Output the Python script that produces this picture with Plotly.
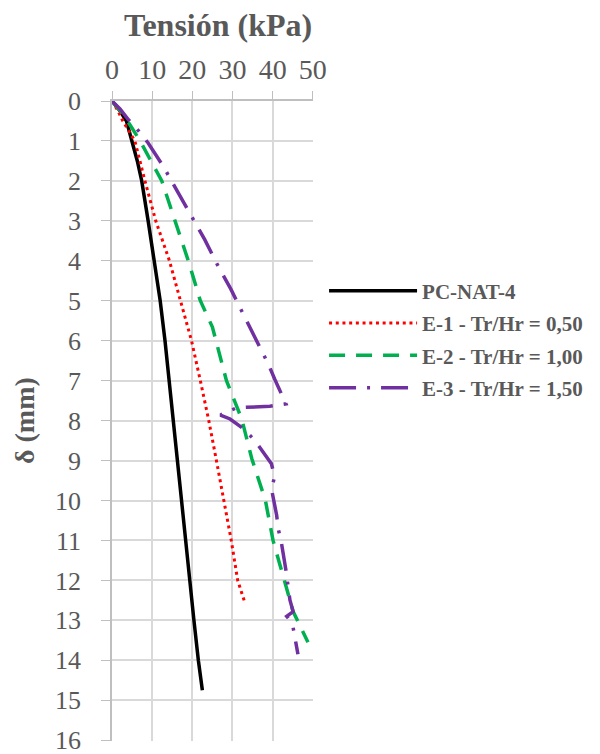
import plotly.graph_objects as go

# PC-NAT-4
pc_x = [0, 2.0, 3.6, 5.0, 6.3, 7.4, 8.3, 9.0, 10.5, 12.0, 13.2, 14.2, 15.3, 16.3, 17.3, 18.4, 19.4, 20.4, 21.5, 22.5]
pc_y = [0, 0.25, 0.5, 1.0, 1.5, 2.0, 2.5, 3.0, 4.0, 5.0, 6.0, 7.0, 8.0, 9.0, 10.0, 11.0, 12.0, 13.0, 14.0, 14.75]
# E-1 - Tr/Hr = 0,50
e1_x = [0, 1.5, 2.7, 4.3, 5.7, 8.2, 10.9, 14.3, 17.0, 19.8, 22.0, 24.1, 26.0, 27.9, 29.7, 31.3, 32.9]
e1_y = [0, 0.25, 0.5, 0.75, 1.0, 2.0, 3.0, 4.0, 5.0, 6.0, 7.0, 8.0, 9.0, 10.0, 11.0, 12.0, 12.5]
# E-2 - Tr/Hr = 1,00
e2_x = [0, 2.5, 4.5, 7.0, 12.4, 15.7, 19.0, 22.0, 25.0, 28.5, 32.3, 34.8, 38.2, 40.1, 41.8, 43.0, 45.1, 48.8]
e2_y = [0, 0.3, 0.6, 1.0, 2.0, 3.0, 4.0, 5.0, 5.66, 7.0, 7.96, 8.95, 10.0, 11.0, 11.65, 12.03, 12.78, 13.55]
# E-3 - Tr/Hr = 1,50
e3_x = [0, 2.0, 4.1, 6.8, 9.0, 12.8, 16.5, 19.6, 23.1, 26.2, 29.6, 32.7, 34.3, 36.0, 38.9, 40.5, 42.2, 43.3,
        39.3, 31.0, 27.0, 29.4, 32.7, 35.6, 39.7, 40.5, 39.7, 41.0, 41.4, 42.2, 43.3, 44.3, 45.1, 43.5, 44.9, 45.5, 46.3]
e3_y = [0, 0.2, 0.47, 0.77, 1.05, 1.64, 2.3, 2.84, 3.47, 4.09, 4.71, 5.34, 5.65, 6.0, 6.58, 6.96, 7.33, 7.58,
        7.64, 7.68, 7.86, 7.96, 8.2, 8.5, 9.08, 9.41, 9.7, 10.37, 10.71, 11.07, 11.74, 12.49, 12.78, 12.9, 13.07, 13.44, 13.85]

x_ticks = [0, 10, 20, 30, 40, 50]
y_ticks = list(range(0, 17))

grey = "#595959"
serif = "Liberation Serif, Times New Roman, DejaVu Serif, serif"
fig = go.Figure()
fig.add_trace(go.Scatter(x=pc_x, y=pc_y, mode="lines", name="PC-NAT-4", legendgroup="a",
                         line=dict(color="black", width=3.5)))
fig.add_trace(go.Scatter(x=e1_x, y=e1_y, mode="lines", name="E-1 - Tr/Hr = 0,50", legendgroup="b",
                         line=dict(color="#ff0000", width=3, dash="3px,3.7px")))
fig.add_trace(go.Scatter(x=e2_x, y=e2_y, mode="lines", name="E-2 - Tr/Hr = 1,00", legendgroup="c",
                         line=dict(color="#00b050", width=3.5, dash="16px,11px")))
fig.add_trace(go.Scatter(x=e3_x, y=e3_y, mode="lines", name="E-3 - Tr/Hr = 1,50", legendgroup="d",
                         line=dict(color="#7030a0", width=3.5, dash="27px,11px,3px,11px")))

fig.update_layout(
    width=600, height=754,
    margin=dict(l=112, r=287, t=101, b=13, autoexpand=False),
    paper_bgcolor="white", plot_bgcolor="white",
    font=dict(family=serif, color=grey),
    showlegend=True,
    legend=dict(x=1.055, y=0.735, xanchor="left", yanchor="top",
                font=dict(family=serif, size=21, color=grey, weight="bold"),
                bgcolor="rgba(0,0,0,0)", itemwidth=88, tracegroupgap=2),
    xaxis=dict(side="top", range=[0, 50.05], tickvals=x_ticks, ticks="outside", ticklen=8,
               tickcolor="#bfbfbf", showline=True, linecolor="#bfbfbf", linewidth=1.5,
               showgrid=True, gridcolor="#d9d9d9", gridwidth=1.5, zeroline=False,
               ticklabeloverflow="allow", automargin=False,
               tickfont=dict(family=serif, size=28, color=grey), ticklabelstandoff=1),
    yaxis=dict(range=[16.02, 0], tickvals=y_ticks, ticks="outside", ticklen=9,
               tickcolor="#bfbfbf", showline=True, linecolor="#bfbfbf", linewidth=1.5,
               showgrid=True, gridcolor="#d9d9d9", gridwidth=1.5, zeroline=False,
               ticklabeloverflow="allow", automargin=False,
               tickfont=dict(family=serif, size=26, color=grey), ticklabelstandoff=15),
    annotations=[
        dict(text="Tensión (kPa)", xref="paper", yref="paper", x=0.5, y=1, xshift=5, yshift=76,
             yanchor="middle", xanchor="center", showarrow=False,
             font=dict(family=serif, size=32, color=grey, weight="bold")),
        dict(text="δ (mm)", xref="paper", yref="paper", x=0, y=0.5, xshift=-88,
             xanchor="center", yanchor="middle",
             textangle=-90, showarrow=False, font=dict(family=serif, size=28, color=grey, weight="bold")),
    ],
)

fig.write_html("out.html")
